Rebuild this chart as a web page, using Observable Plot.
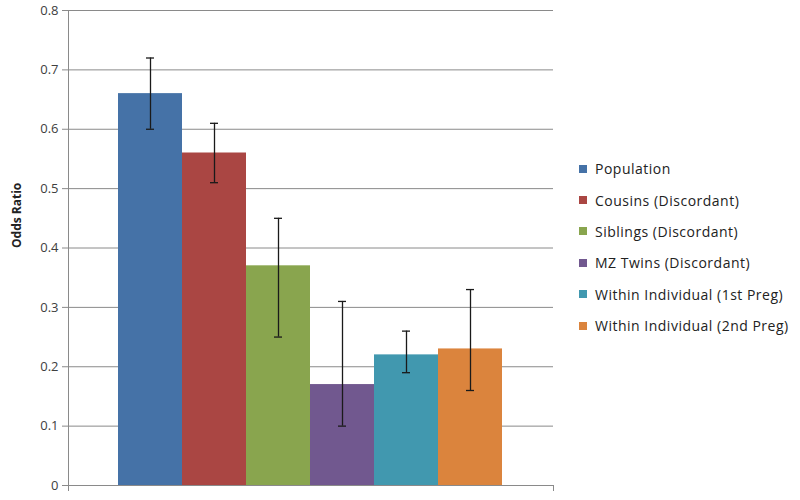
<!DOCTYPE html>
<html>
<head>
<meta charset="utf-8">
<script src="https://cdn.jsdelivr.net/npm/d3@7"></script>
<script src="https://cdn.jsdelivr.net/npm/@observablehq/plot@0.6"></script>
<style>
  html, body { margin: 0; padding: 0; background: #fff; }
  #wrap { position: relative; width: 800px; height: 500px; font-family: "Open Sans", sans-serif; }
  #legend { position: absolute; left: 579px; top: 153px; font-size: 14px; letter-spacing: 0.5px; color: #222; }
  #legend .row { height: 31.4px; display: flex; align-items: center; white-space: nowrap; }
  #legend .sw { width: 8px; height: 8px; margin-right: 8px; flex: none; }
</style>
</head>
<body>
<div id="wrap"><div id="legend"></div></div>
<script>
const categories = ["Population", "Cousins (Discordant)", "Siblings (Discordant)", "MZ Twins (Discordant)", "Within Individual (1st Preg)", "Within Individual (2nd Preg)"];
const oddsRatio = [0.66, 0.56, 0.37, 0.17, 0.22, 0.23];
const lower = [0.60, 0.51, 0.25, 0.10, 0.19, 0.16];
const upper = [0.72, 0.61, 0.45, 0.31, 0.26, 0.33];
const colors = ["#4572A7", "#AA4643", "#89A54E", "#71588F", "#4198AF", "#DB843D"];
const yTicks = [0, 0.1, 0.2, 0.3, 0.4, 0.5, 0.6, 0.7, 0.8];

const data = categories.map((c, i) => ({cat: c, v: oddsRatio[i], lo: lower[i], hi: upper[i]}));

const W = 800, H = 500, mL = 68, mR = 247, mT = 10, mB = 15;

const chart = Plot.plot({
  width: W, height: H,
  marginLeft: mL, marginRight: mR, marginTop: mT, marginBottom: mB,
  style: {fontFamily: "'Open Sans', sans-serif", fontSize: "13px", color: "#404040", background: "transparent"},
  x: {type: "band", domain: categories, range: [117, 503], padding: 0, axis: null},
  y: {domain: [0, 0.8]},
  color: {domain: categories, range: colors},
  marks: [
    Plot.gridY(yTicks, {stroke: "#8a8a8a", strokeOpacity: 1}),
    Plot.axisY(yTicks, {tickSize: 6, tickPadding: 4, stroke: "#8a8a8a", fill: "#404040",
      tickFormat: d => d === 0 ? "0" : d.toFixed(1), label: null, fontSize: 13}),
    Plot.barY(data, {x: "cat", y: "v", fill: "cat"}),
    Plot.ruleX(data, {x: "cat", y1: "lo", y2: "hi", stroke: "#1a1a1a", strokeWidth: 1.3}),
    Plot.tickY(data, {x: "cat", y: "lo", stroke: "#1a1a1a", strokeWidth: 1.3, insetLeft: 28, insetRight: 28}),
    Plot.tickY(data, {x: "cat", y: "hi", stroke: "#1a1a1a", strokeWidth: 1.3, insetLeft: 28, insetRight: 28}),
    Plot.frame({anchor: "left", stroke: "#8a8a8a"}),
    Plot.frame({anchor: "bottom", stroke: "#8a8a8a"}),
    (index, scales, values, dims) => {
      const g = d3.create("svg:g").attr("stroke", "#8a8a8a");
      const y0 = dims.height - dims.marginBottom;
      [dims.marginLeft, dims.width - dims.marginRight].forEach(x => {
        g.append("line").attr("x1", x + 0.5).attr("x2", x + 0.5).attr("y1", y0).attr("y2", y0 + 6);
      });
      return g.node();
    },
    Plot.text(["Odds Ratio"], {frameAnchor: "left", rotate: -90, dx: -51, fontWeight: "bold", fontSize: 12, fill: "#222"})
  ]
});

document.getElementById("wrap").prepend(chart);

const legend = d3.select("#legend");
categories.forEach((c, i) => {
  const row = legend.append("div").attr("class", "row");
  row.append("div").attr("class", "sw").style("background", colors[i]);
  row.append("span").text(c);
});
</script>
</body>
</html>
